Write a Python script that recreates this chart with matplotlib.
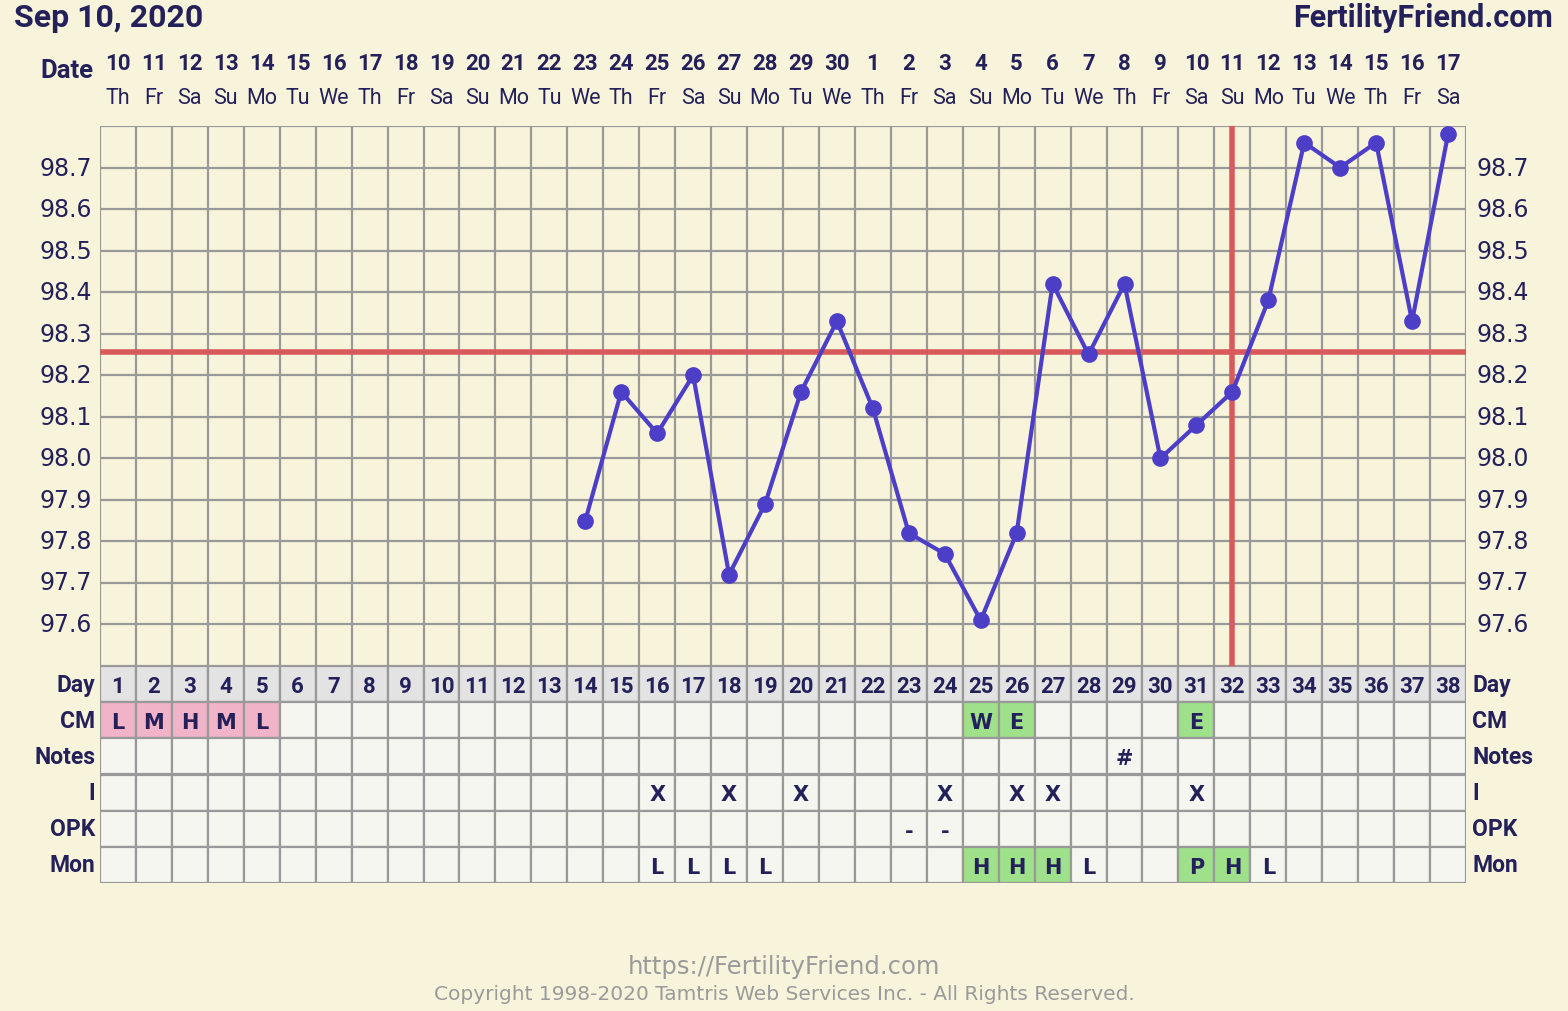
import matplotlib.pyplot as plt
import numpy as np

# chart data
dates = [str(d) for d in range(10, 31)] + [str(d) for d in range(1, 18)]
weekdays = ['Th', 'Fr', 'Sa', 'Su', 'Mo', 'Tu', 'We'] * 6
weekdays = weekdays[:38]
cycle_days = list(range(1, 39))
temps = [None] * 13 + [97.85, 98.16, 98.06, 98.20, 97.72, 97.89, 98.16, 98.33,
                       98.12, 97.82, 97.77, 97.61, 97.82, 98.42, 98.25, 98.42,
                       98.00, 98.08, 98.16, 98.38, 98.76, 98.70, 98.76, 98.33, 98.78]
coverline = 98.255
ovulation_day = 32
yticks = [97.6, 97.7, 97.8, 97.9, 98.0, 98.1, 98.2, 98.3, 98.4, 98.5, 98.6, 98.7]

row_names = ['Day', 'CM', 'Notes', 'I', 'OPK', 'Mon']
cm = {1: 'L', 2: 'M', 3: 'H', 4: 'M', 5: 'L', 25: 'W', 26: 'E', 31: 'E'}
notes = {29: '#'}
intercourse = {16: 'X', 18: 'X', 20: 'X', 24: 'X', 26: 'X', 27: 'X', 31: 'X'}
opk = {23: '-', 24: '-'}
monitor = {16: 'L', 17: 'L', 18: 'L', 19: 'L', 25: 'H', 26: 'H', 27: 'H',
           28: 'L', 31: 'P', 32: 'H', 33: 'L'}
pink_cells = [1, 2, 3, 4, 5]
green_cm = [25, 26, 31]
green_mon = [25, 26, 27, 31, 32]

BG = '#f8f4dc'
NAVY = '#24215a'
GRID = '#999999'
LINE = '#4c3ec6'
RED = '#d85a5c'

W, H = 1568, 1012
fig = plt.figure(figsize=(W / 100, H / 100), dpi=100, facecolor=BG)


def fx(px):
    return px / W


def fy(py):
    return 1 - py / H


left, right = 100, 1466
top, mid, bottom = 127, 667, 884

ax = fig.add_axes([fx(left), fy(mid), fx(right - left), (mid - top) / H])
ax.set_facecolor(BG)
ax.set_xlim(0.5, 38.5)
ax.set_ylim(97.5, 98.8)
for x in np.arange(0.5, 39, 1):
    ax.axvline(x, color=GRID, lw=1.6, zorder=1)
for y in np.arange(97.5, 98.85, 0.1):
    ax.axhline(y, color=GRID, lw=1.6, zorder=1)
ax.set_xticks([])
ax.set_yticks([])
for s in ax.spines.values():
    s.set_visible(False)

ax.axhline(coverline, color=RED, lw=4, zorder=2)
ax.plot([ovulation_day, ovulation_day], [97.5, 98.8], color=RED, lw=4, zorder=2,
        solid_capstyle='butt')

xs = [d for d, t in zip(cycle_days, temps) if t is not None]
ys = [t for t in temps if t is not None]
ax.plot(xs, ys, color=LINE, lw=3, marker='o', ms=11, zorder=3)

for t in yticks:
    fig.text(fx(92), fy(169 + (98.7 - t) * 414.5), f'{t:.1f}', ha='right',
             va='center', fontsize=17, color=NAVY)
    fig.text(fx(1476), fy(169 + (98.7 - t) * 414.5), f'{t:.1f}', ha='left',
             va='center', fontsize=17, color=NAVY)

# table
tx = fig.add_axes([fx(left), fy(bottom), fx(right - left), (bottom - mid) / H])
tx.set_xlim(0.5, 38.5)
tx.set_ylim(6, 0)
tx.set_axis_off()
for i, d in enumerate(cycle_days):
    for r in range(6):
        if r == 0:
            c = '#e3e3e3'
        elif r == 1 and d in pink_cells:
            c = '#f0b3c8'
        elif r == 1 and d in green_cm:
            c = '#9fe08a'
        elif r == 5 and d in green_mon:
            c = '#9fe08a'
        else:
            c = '#f6f6f1'
        tx.add_patch(plt.Rectangle((d - 0.5, r), 1, 1, facecolor=c,
                                   edgecolor=GRID, lw=1.6))
    tx.text(d, 0.55, str(d), ha='center', va='center', fontsize=16,
            fontweight='bold', color=NAVY, family='Roboto')
for r, vals in enumerate([cm, notes, intercourse, opk, monitor], start=1):
    for d, v in vals.items():
        tx.text(d, r + 0.55, v, ha='center', va='center', fontsize=15,
                fontweight='bold', color=NAVY)

row_y = [686, 722, 758, 794, 830, 866]
for name, y in zip(row_names, row_y):
    fig.text(fx(95), fy(y), name, ha='right', va='center', fontsize=16.5,
             fontweight='bold', color=NAVY, family='Roboto')
    fig.text(fx(1472), fy(y), name, ha='left', va='center', fontsize=16.5,
             fontweight='bold', color=NAVY, family='Roboto')

# header
for i in range(38):
    xc = left + (i + 0.5) * (right - left) / 38
    fig.text(fx(xc), fy(64), dates[i], ha='center', va='center', fontsize=16,
             fontweight='bold', color=NAVY, family='Roboto')
    fig.text(fx(xc), fy(99), weekdays[i], ha='center', va='center',
             fontsize=15.5, color=NAVY, family='Roboto')
fig.text(fx(93), fy(71), 'Date', ha='right', va='center', fontsize=18.5,
         fontweight='bold', color=NAVY, family='Roboto')
fig.text(fx(14), fy(18), 'Sep 10, 2020', ha='left', va='center', fontsize=23,
         fontweight='bold', color=NAVY, family='Roboto')
fig.text(fx(1553), fy(18), 'FertilityFriend.com', ha='right', va='center',
         fontsize=22, fontweight='bold', color=NAVY, family='Roboto')

fig.text(0.5, fy(967), 'https://FertilityFriend.com', ha='center', va='center',
         fontsize=17.5, color='#9a9a9a')
fig.text(0.5, fy(995), 'Copyright 1998-2020 Tamtris Web Services Inc. - All Rights Reserved.',
         ha='center', va='center', fontsize=14.5, color='#9a9a9a')

fig.savefig('out.png', dpi=100, facecolor=BG)
